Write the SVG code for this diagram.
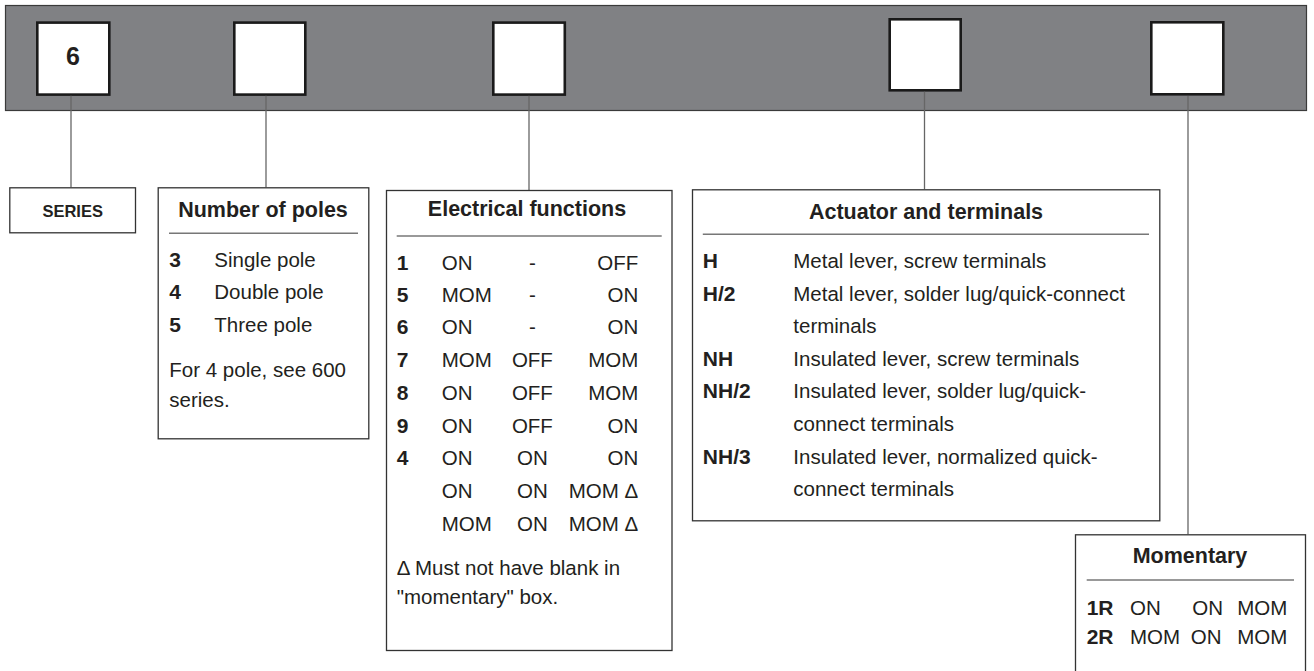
<svg xmlns="http://www.w3.org/2000/svg" width="1314" height="671" viewBox="0 0 1314 671">
<style>
.bar{fill:#808184;stroke:#3a3a3a;stroke-width:1.2}
.slot{fill:#fff;stroke:#1a1a1a;stroke-width:2.6}
.box{fill:#fff;stroke:#333;stroke-width:1.3}
.sep{stroke:#777;stroke-width:1.5}
.conn{stroke:#666;stroke-width:1.3;fill:none}
text{font-family:"Liberation Sans",Arial,sans-serif;fill:#231f20}
.t{font-size:21.5px;font-weight:bold}
.b{font-size:21px;font-weight:bold}
.r{font-size:20.5px}
.m{text-anchor:middle}
.e{text-anchor:end}
</style>
<rect class="bar" x="5.5" y="5.5" width="1301" height="105"/>
<g id="slot-series"><rect class="slot" x="37.3" y="22.6" width="72" height="72"/><text class="m" x="73" y="65" style="font-size:25px;font-weight:bold">6</text></g>
<g id="slot-poles"><rect class="slot" x="234.3" y="22.6" width="71" height="72"/></g>
<g id="slot-functions"><rect class="slot" x="493.3" y="22.6" width="71.5" height="72"/></g>
<g id="slot-actuator"><rect class="slot" x="889.7" y="19.3" width="71" height="71"/></g>
<g id="slot-momentary"><rect class="slot" x="1151.3" y="22.3" width="72" height="72"/></g>
<g id="connectors">
<line class="conn" x1="71" y1="95.7" x2="71" y2="187.3"/>
<line class="conn" x1="266" y1="95.7" x2="266" y2="187.3"/>
<line class="conn" x1="529" y1="95.7" x2="529" y2="190"/>
<line class="conn" x1="924.5" y1="91.7" x2="924.5" y2="189.3"/>
<line class="conn" x1="1188" y1="96" x2="1188" y2="534.3"/>
</g>
<g id="series">
<rect class="box" x="9.8" y="187.8" width="125.7" height="45"/>
<text class="m" x="72.7" y="216.5" style="font-size:16.5px;font-weight:bold">SERIES</text>
</g>
<g id="poles">
<rect class="box" x="158.2" y="187.8" width="210.6" height="251"/>
<text class="t m" x="263" y="216.7">Number of poles</text>
<line class="sep" x1="169" y1="233.3" x2="358" y2="233.3"/>
<text class="b" x="169.3" y="267.3">3</text><text class="r" x="214.3" y="267.3">Single pole</text>
<text class="b" x="169.3" y="299.3">4</text><text class="r" x="214.3" y="299.3">Double pole</text>
<text class="b" x="169.3" y="331.7">5</text><text class="r" x="214.3" y="331.7">Three pole</text>
<text class="r" x="169.3" y="376.7">For 4 pole, see 600</text>
<text class="r" x="169.3" y="406.7">series.</text>
</g>
<g id="functions">
<rect class="box" x="386.5" y="190.5" width="285.5" height="460"/>
<text class="t m" x="527" y="216">Electrical functions</text>
<line class="sep" x1="396.7" y1="236" x2="661.7" y2="236"/>
<text class="b" x="396.7" y="270">1</text><text class="r" x="441.7" y="270">ON</text><text class="r m" x="532.4" y="270">-</text><text class="r e" x="638.3" y="270">OFF</text>
<text class="b" x="396.7" y="301.7">5</text><text class="r" x="441.7" y="301.7">MOM</text><text class="r m" x="532.4" y="301.7">-</text><text class="r e" x="638.3" y="301.7">ON</text>
<text class="b" x="396.7" y="334.3">6</text><text class="r" x="441.7" y="334.3">ON</text><text class="r m" x="532.4" y="334.3">-</text><text class="r e" x="638.3" y="334.3">ON</text>
<text class="b" x="396.7" y="367.3">7</text><text class="r" x="441.7" y="367.3">MOM</text><text class="r m" x="532.4" y="367.3">OFF</text><text class="r e" x="638.3" y="367.3">MOM</text>
<text class="b" x="396.7" y="400">8</text><text class="r" x="441.7" y="400">ON</text><text class="r m" x="532.4" y="400">OFF</text><text class="r e" x="638.3" y="400">MOM</text>
<text class="b" x="396.7" y="432.7">9</text><text class="r" x="441.7" y="432.7">ON</text><text class="r m" x="532.4" y="432.7">OFF</text><text class="r e" x="638.3" y="432.7">ON</text>
<text class="b" x="396.7" y="465.3">4</text><text class="r" x="441.7" y="465.3">ON</text><text class="r m" x="532.4" y="465.3">ON</text><text class="r e" x="638.3" y="465.3">ON</text>
<text class="r" x="441.7" y="498.3">ON</text><text class="r m" x="532.4" y="498.3">ON</text><text class="r e" x="638.3" y="498.3">MOM Δ</text>
<text class="r" x="441.7" y="531">MOM</text><text class="r m" x="532.4" y="531">ON</text><text class="r e" x="638.3" y="531">MOM Δ</text>
<text class="r" x="396.7" y="575">Δ Must not have blank in</text>
<text class="r" x="396.7" y="604">"momentary" box.</text>
</g>
<g id="actuator">
<rect class="box" x="692.5" y="189.8" width="467.3" height="331"/>
<text class="t m" x="926" y="219.3">Actuator and terminals</text>
<line class="sep" x1="702.8" y1="234.3" x2="1149" y2="234.3"/>
<text class="b" x="702.8" y="268.3">H</text><text class="r" x="793.3" y="268.3">Metal lever, screw terminals</text>
<text class="b" x="702.8" y="300.5">H/2</text><text class="r" x="793.3" y="300.5">Metal lever, solder lug/quick-connect</text>
<text class="r" x="793.3" y="333">terminals</text>
<text class="b" x="702.8" y="366">NH</text><text class="r" x="793.3" y="366">Insulated lever, screw terminals</text>
<text class="b" x="702.8" y="398.3">NH/2</text><text class="r" x="793.3" y="398.3">Insulated lever, solder lug/quick-</text>
<text class="r" x="793.3" y="430.7">connect terminals</text>
<text class="b" x="702.8" y="464">NH/3</text><text class="r" x="793.3" y="464">Insulated lever, normalized quick-</text>
<text class="r" x="793.3" y="496">connect terminals</text>
</g>
<g id="momentary">
<rect class="box" x="1075.5" y="534.8" width="230" height="150"/>
<text class="t m" x="1190" y="563.3">Momentary</text>
<line class="sep" x1="1086.7" y1="580" x2="1294" y2="580"/>
<text class="b" x="1086.7" y="615">1R</text><text class="r" x="1130" y="615">ON</text><text class="r" x="1192.3" y="615">ON</text><text class="r" x="1237.3" y="615">MOM</text>
<text class="b" x="1086.7" y="644">2R</text><text class="r" x="1130" y="644">MOM</text><text class="r" x="1190.7" y="644">ON</text><text class="r" x="1237.3" y="644">MOM</text>
</g>
</svg>
